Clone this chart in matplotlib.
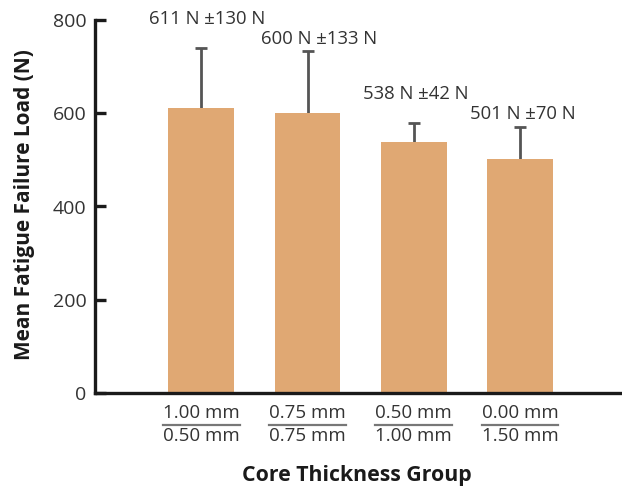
import matplotlib
matplotlib.use("Agg")
import matplotlib.pyplot as plt
from matplotlib.lines import Line2D

plt.rcParams['font.family'] = ['Open Sans', 'DejaVu Sans']

# Core / veneer thickness groups (core over veneer)
core_thickness = ["1.00 mm", "0.75 mm", "0.50 mm", "0.00 mm"]
veneer_thickness = ["0.50 mm", "0.75 mm", "1.00 mm", "1.50 mm"]
mean_load = [611, 600, 538, 501]
sd_load = [130, 133, 42, 70]
y_ticks = [0, 200, 400, 600, 800]

# label placement relative to the top of each error bar (pixels)
label_dx = [6, 12, 2, 3]
label_dy = [29, 12, 29, 13]

BAR = "#E0A873"
TXT = "#333333"

W, H = 622, 488
fig = plt.figure(figsize=(W / 100, H / 100), dpi=100)
ax = fig.add_axes([95 / W, (H - 393) / H, 1 - 95 / W, (393 - 20) / H])

x = list(range(len(mean_load)))
# error bars sit behind the bars so only the upper half shows
ax.errorbar(x, mean_load, yerr=sd_load, fmt="none",
            ecolor="#555555", elinewidth=2, capsize=4, capthick=2, zorder=1)
ax.bar(x, mean_load, width=0.62, color=BAR, zorder=2)

for xi, m, s, dx, dy in zip(x, mean_load, sd_load, label_dx, label_dy):
    ax.annotate(f"{m} N \u00b1{s} N", xy=(xi, m + s), xytext=(dx, dy),
                textcoords="offset pixels", ha="center", va="center",
                fontsize=13.3, color=TXT, annotation_clip=False)

ax.set_xlim(-1.0, 3.96)
ax.set_ylim(0, 800)
ax.set_yticks(y_ticks)
ax.set_yticklabels([str(t) for t in y_ticks], fontsize=14, color=TXT)
ax.set_xticks([])

for side in ("top", "right"):
    ax.spines[side].set_visible(False)
ax.spines["left"].set_linewidth(2.4)
ax.spines["bottom"].set_linewidth(2.4)
ax.spines["left"].set_color("#1a1a1a")
ax.spines["bottom"].set_color("#1a1a1a")
ax.tick_params(axis="y", direction="in", length=8, width=2.4, color="#1a1a1a", pad=6)

fig.text(25 / W, 1 - 205 / H, "Mean Fatigue Failure Load (N)", rotation=90,
         ha="center", va="center", fontsize=15, fontweight="bold", color="#1a1a1a")
fig.text(357 / W, 1 - 475 / H, "Core Thickness Group", ha="center", va="center",
         fontsize=15.3, fontweight="bold", color="#1a1a1a")

# stacked fraction labels under each bar
trans = ax.get_xaxis_transform()
tops, bots = [], []
for xi, c, v in zip(x, core_thickness, veneer_thickness):
    tops.append(ax.annotate(c, xy=(xi, 0), xycoords=trans, xytext=(0, -20),
                            textcoords="offset pixels", ha="center", va="center",
                            fontsize=13.5, color=TXT, annotation_clip=False))
    bots.append(ax.annotate(v, xy=(xi, 0), xycoords=trans, xytext=(0, -43),
                            textcoords="offset pixels", ha="center", va="center",
                            fontsize=13.5, color=TXT, annotation_clip=False))

fig.canvas.draw()
renderer = fig.canvas.get_renderer()
for t, b in zip(tops, bots):
    e1 = t.get_window_extent(renderer)
    e2 = b.get_window_extent(renderer)
    x0 = min(e1.x0, e2.x0)
    x1 = max(e1.x1, e2.x1)
    yline = H - 425
    fig.add_artist(Line2D([x0 / W, x1 / W], [yline / H, yline / H],
                          transform=fig.transFigure, color="#777777", lw=1.6))

fig.savefig("out.png", dpi=100)
